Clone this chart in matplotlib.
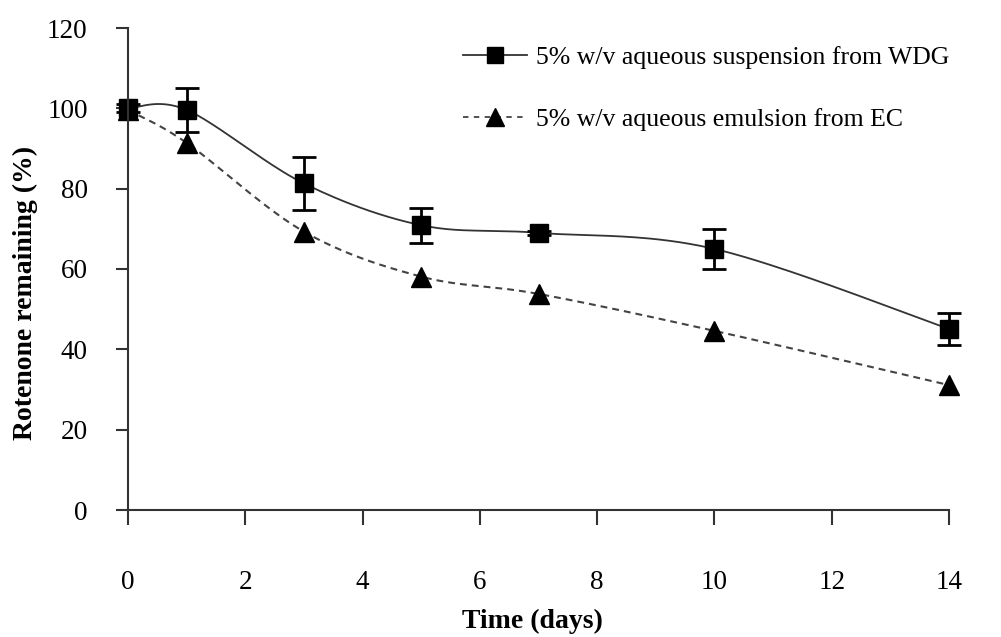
import numpy as np
import matplotlib.pyplot as plt

plt.rcParams['font.family'] = ['Liberation Serif', 'DejaVu Serif']

days = [0, 1, 3, 5, 7, 10, 14]
wdg = [100.0, 99.6, 81.3, 70.9, 69.0, 65.0, 45.1]
wdg_err = [1.0, 5.4, 6.7, 4.4, 0.5, 5.0, 4.0]
ec = [99.6, 91.4, 69.3, 58.1, 53.8, 44.6, 31.1]

wdg_label = '5% w/v aqueous suspension from WDG'
ec_label = '5% w/v aqueous emulsion from EC'


def smooth(x, y, n=40):
    # Bezier smoothing through every point (control points at 1/6 of the neighbour chord)
    p = np.column_stack([x, y]).astype(float)
    p_ext = np.vstack([p[0], p, p[-1]])
    xs, ys = [], []
    t = np.linspace(0, 1, n)[:, None]
    for i in range(len(p) - 1):
        p0, p1 = p_ext[i + 1], p_ext[i + 2]
        c1 = p0 + (p_ext[i + 2] - p_ext[i]) / 6
        c2 = p1 - (p_ext[i + 3] - p_ext[i + 1]) / 6
        b = ((1 - t) ** 3) * p0 + 3 * ((1 - t) ** 2) * t * c1 + 3 * (1 - t) * t ** 2 * c2 + t ** 3 * p1
        xs.extend(b[:, 0])
        ys.extend(b[:, 1])
    return np.array(xs), np.array(ys)


fig = plt.figure(figsize=(10.01, 6.37), dpi=100)
ax = fig.add_axes([128 / 1001, 127 / 637, 821 / 1001, 482 / 637])

sx, sy = smooth(days, ec)
ax.plot(sx, sy, '--', color='#444444', lw=1.5, dashes=(3.3, 2.4), clip_on=False)
ax.plot(days, ec, '^', color='black', ms=14.5, ls='none', clip_on=False)

sx, sy = smooth(days, wdg)
ax.plot(sx, sy, '-', color='#333333', lw=1.3, clip_on=False)
eb = ax.errorbar(days, wdg, yerr=wdg_err, fmt='s', color='black', ms=12.5,
                 ecolor='black', elinewidth=2, capsize=8.5, capthick=2)
for art in eb.get_children():
    art.set_clip_on(False)

# legend proxies
h1, = ax.plot([], [], '-', color='#333333', lw=1.3, marker='s', ms=11, mfc='black', mec='black')
h2, = ax.plot([], [], '--', color='#444444', lw=1.3, dashes=(3, 3), marker='^', ms=13,
              mfc='black', mec='black')
ax.legend([h1, h2], [wdg_label, ec_label], loc='upper left',
          bbox_to_anchor=((463 - 128) / 821, (510 - 46) / 482),
          frameon=False, fontsize=18.5, handlelength=2.5, handletextpad=0.35,
          labelspacing=1.5, numpoints=1, borderaxespad=0, borderpad=0)

ax.set_xlim(0, 14)
ax.set_ylim(0, 120)
ax.set_xticks(range(0, 15, 2))
ax.set_yticks(range(0, 121, 20))
for s in ['top', 'right']:
    ax.spines[s].set_visible(False)
for s in ['left', 'bottom']:
    ax.spines[s].set_color('#333333')
    ax.spines[s].set_linewidth(1.5)
ax.tick_params(axis='x', direction='out', length=11, width=1.5, color='#333333',
               pad=32, labelsize=19.5)
ax.tick_params(axis='y', direction='out', length=9, width=1.5, color='#333333',
               pad=20, labelsize=19.5)

ax.set_xlabel('Time (days)', fontsize=20, fontweight='bold')
ax.xaxis.set_label_coords((532 - 128) / 821, -(621 - 510) / 482)
ax.set_ylabel('Rotenone remaining (%)', fontsize=20, fontweight='bold')
ax.yaxis.set_label_coords(-(128 - 25) / 821, (510 - 293) / 482)
ax.xaxis.label.set_va('center')
ax.yaxis.label.set_va('center')

plt.savefig('out.png', dpi=100)
